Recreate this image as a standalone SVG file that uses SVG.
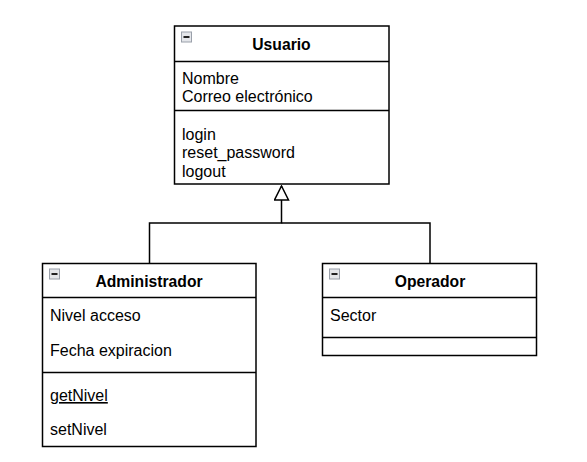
<svg xmlns="http://www.w3.org/2000/svg" width="587" height="462" viewBox="0 0 587 462">
<defs>
<style>
.box{fill:#fff;stroke:#000;stroke-width:1.5}
.div{stroke:#000;stroke-width:1.5}
.t{font-family:"Liberation Sans",Arial,sans-serif;font-size:16px;fill:#000}
.h{font-family:"Liberation Sans",Arial,sans-serif;font-size:15.7px;font-weight:bold;fill:#000;text-anchor:middle}
.conn{fill:none;stroke:#000;stroke-width:1.5}
</style>
<marker id="inh" viewBox="0 0 16 16" refX="15" refY="8" markerWidth="16" markerHeight="16" markerUnits="userSpaceOnUse" orient="auto">
<path d="M1,1 L15,8 L1,15 Z" fill="#fff" stroke="#000" stroke-width="1.5"/>
</marker>
<g id="minus">
<rect x="0.5" y="0.5" width="10" height="10" fill="#e4e6ea" stroke="#9aa0aa" stroke-width="1"/>
<rect x="2.5" y="4.5" width="6" height="2" fill="#222"/>
</g>
</defs>
<g id="connectors">
<path class="conn" d="M149.5,263 V223 H281.5 V186"  marker-end="url(#inh)"/>
<path class="conn" d="M430,263 V223 H281.5"/>
</g>
<g id="usuario">
<rect class="box" x="174.5" y="26" width="214.5" height="158"/>
<line class="div" x1="174.5" y1="61.5" x2="389" y2="61.5"/>
<line class="div" x1="174.5" y1="110.5" x2="389" y2="110.5"/>
<use href="#minus" x="181" y="31.5"/>
<text class="h" x="281.5" y="49.5">Usuario</text>
<text class="t" x="182" y="84">Nombre</text>
<text class="t" x="182" y="102">Correo electrónico</text>
<text class="t" x="182" y="139.5">login</text>
<text class="t" x="182" y="158">reset_password</text>
<text class="t" x="182" y="176.5">logout</text>
</g>
<g id="administrador">
<rect class="box" x="42.5" y="263.5" width="213.5" height="183"/>
<line class="div" x1="42.5" y1="297.5" x2="256" y2="297.5"/>
<line class="div" x1="42.5" y1="372.5" x2="256" y2="372.5"/>
<use href="#minus" x="49" y="268.5"/>
<text class="h" x="149" y="286.5">Administrador</text>
<text class="t" x="50" y="320.5">Nivel acceso</text>
<text class="t" x="50" y="355.5">Fecha expiracion</text>
<text class="t" x="50" y="401" text-decoration="underline">getNivel</text>
<text class="t" x="50" y="435">setNivel</text>
</g>
<g id="operador">
<rect class="box" x="322.5" y="263.5" width="214" height="92"/>
<line class="div" x1="322.5" y1="297.5" x2="536.5" y2="297.5"/>
<line class="div" x1="322.5" y1="337.5" x2="536.5" y2="337.5"/>
<use href="#minus" x="329" y="268.5"/>
<text class="h" x="430" y="286.5">Operador</text>
<text class="t" x="330" y="320.5">Sector</text>
</g>
</svg>
